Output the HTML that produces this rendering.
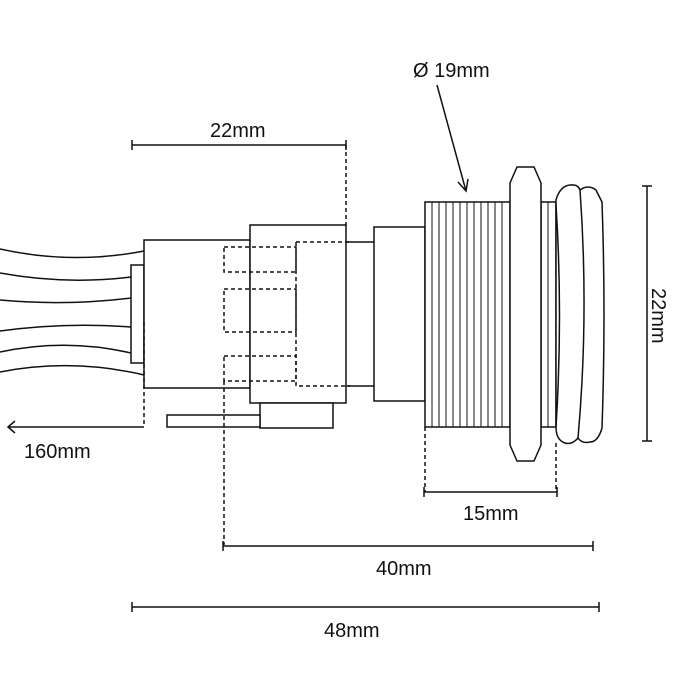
<!DOCTYPE html>
<html><head><style>body{margin:0;background:#fff}svg{display:block}text{font-family:"Liberation Sans",sans-serif;font-size:20px;fill:#111}</style></head>
<body>
<svg width="700" height="700" viewBox="0 0 700 700" xmlns="http://www.w3.org/2000/svg">
<g fill="none" stroke="#111" stroke-width="1.5">
<!-- wires -->
<path d="M0 249 Q72 265 144 251"/>
<path d="M0 273 Q66 285 131 277"/>
<path d="M0 300 Q66 306 131 298"/>
<path d="M0 331 Q66 322 131 327"/>
<path d="M0 352 Q66 338 131 353"/>
<path d="M0 372 Q72 358 144 375"/>
<!-- connector -->
<rect x="131" y="265" width="13" height="98" fill="#fff"/>
<rect x="144" y="240" width="106" height="148" fill="#fff"/>
<rect x="250" y="225" width="96" height="178" fill="#fff"/>
<rect x="260" y="403" width="73" height="25" fill="#fff"/>
<rect x="167" y="415" width="93" height="12" fill="#fff"/>
<line x1="346" y1="242" x2="374" y2="242"/>
<line x1="346" y1="386" x2="374" y2="386"/>
<rect x="374" y="227" width="51" height="174" fill="#fff"/>
<!-- thread -->
<rect x="425" y="202" width="85" height="225" fill="#fff"/>
<g stroke-width="1">
<line x1="432" y1="202" x2="432" y2="427"/><line x1="439" y1="202" x2="439" y2="427"/><line x1="446" y1="202" x2="446" y2="427"/><line x1="453" y1="202" x2="453" y2="427"/><line x1="460" y1="202" x2="460" y2="427"/><line x1="467" y1="202" x2="467" y2="427"/><line x1="474" y1="202" x2="474" y2="427"/><line x1="481" y1="202" x2="481" y2="427"/><line x1="488" y1="202" x2="488" y2="427"/><line x1="495" y1="202" x2="495" y2="427"/><line x1="502" y1="202" x2="502" y2="427"/>
<line x1="548" y1="202" x2="548" y2="427"/>
</g>
<rect x="541" y="202" width="15" height="225"/>
<!-- nut -->
<path d="M517 167 L534 167 L541 183 L541 445 L534 461 L517 461 L510 445 L510 183 Z" fill="#fff"/>
<!-- cap -->
<path d="M556 200 Q560 186 570 185 Q578 184 580 190 Q588 184 596 190 L602 202 Q606 315 602 428 Q598 442 590 442 Q582 444 578 438 Q572 445 565 443 Q556 440 556 427 Z" fill="#fff"/>
<path d="M580 190 Q589 315 578 438"/>
<path d="M556 205 Q563 315 556 427"/>
<!-- dims -->
<line x1="132" y1="145" x2="346" y2="145"/><line x1="132" y1="140" x2="132" y2="150"/><line x1="346" y1="140" x2="346" y2="150"/>
<line x1="647" y1="186" x2="647" y2="441"/><line x1="642" y1="186" x2="652" y2="186"/><line x1="642" y1="441" x2="652" y2="441"/>
<line x1="424" y1="492" x2="557" y2="492"/><line x1="424" y1="487" x2="424" y2="497"/><line x1="557" y1="487" x2="557" y2="497"/>
<line x1="223" y1="546" x2="593" y2="546"/><line x1="223" y1="541" x2="223" y2="551"/><line x1="593" y1="541" x2="593" y2="551"/>
<line x1="132" y1="607" x2="599" y2="607"/><line x1="132" y1="602" x2="132" y2="612"/><line x1="599" y1="602" x2="599" y2="612"/>
<line x1="8" y1="427" x2="144" y2="427"/><path d="M15 421 L8 427 L15 433"/>
<line x1="437" y1="85" x2="466" y2="191"/><path d="M458 182 L466 191 L468 179"/>
</g>
<g fill="none" stroke="#111" stroke-width="1.5" stroke-dasharray="4,3">
<path d="M296 242 H350 M296 242 V386 H350"/>
<rect x="224" y="247" width="72" height="25"/>
<rect x="224" y="289" width="72" height="43"/>
<rect x="224" y="356" width="72" height="25"/>
<line x1="224" y1="381" x2="224" y2="545"/>
<line x1="144" y1="322" x2="144" y2="427"/>
<line x1="346" y1="145" x2="346" y2="225"/>
<line x1="425" y1="427" x2="425" y2="492"/>
<line x1="556" y1="443" x2="556" y2="492"/>
</g>
<text x="210" y="137">22mm</text>
<text x="413" y="77">Ø 19mm</text>
<text x="24" y="458">160mm</text>
<text x="463" y="520">15mm</text>
<text x="376" y="575">40mm</text>
<text x="324" y="637">48mm</text>
<text transform="translate(652,288) rotate(90)">22mm</text>
</svg>
</body></html>
